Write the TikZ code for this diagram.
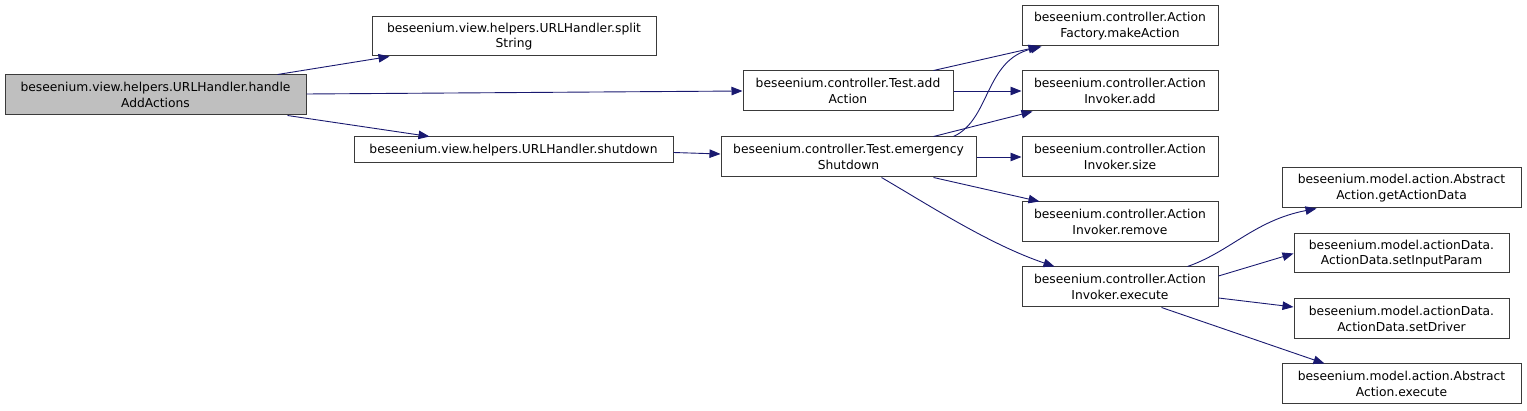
\documentclass[tikz,border=0pt]{standalone}
\usepackage{fontspec}
\setmainfont{DejaVu Sans}
\usetikzlibrary{arrows.meta,calc}
\definecolor{edgecol}{HTML}{191970}
\definecolor{boxline}{HTML}{3A3A3A}
\definecolor{rootfill}{HTML}{BFBFBF}
\begin{document}
\begin{tikzpicture}[x=1pt,y=-1pt,
  box/.style={draw=boxline, line width=1pt, fill=white, inner sep=0pt, align=center,
    font=\fontsize{12.3}{15.3}\selectfont, text=black, minimum height=40pt},
  edge/.style={draw=edgecol, line width=0.9pt, -{Triangle[length=11pt,width=8.5pt]}}]
\useasboundingbox (0,0) rectangle (1527,411);
% nodes
\node[box, fill=rootfill, minimum width=301pt] (handle) at (155.5,95) {beseenium.view.helpers.URLHandler.handle\\AddActions};
\node[box, minimum width=284pt, minimum height=39pt] (split) at (514,36.5) {beseenium.view.helpers.URLHandler.split\\String};
\node[box, minimum width=319pt, minimum height=26pt] (shutdown) at (513.5,150) {beseenium.view.helpers.URLHandler.shutdown};
\node[box, minimum width=210pt] (addAction) at (848,91) {beseenium.controller.Test.add\\Action};
\node[box, minimum width=255pt] (emergency) at (848.5,157) {beseenium.controller.Test.emergency\\Shutdown};
\node[box, minimum width=196pt] (makeAction) at (1120,26) {beseenium.controller.Action\\Factory.makeAction};
\node[box, minimum width=196pt] (invAdd) at (1120,91) {beseenium.controller.Action\\Invoker.add};
\node[box, minimum width=196pt] (invSize) at (1120,157) {beseenium.controller.Action\\Invoker.size};
\node[box, minimum width=196pt] (invRemove) at (1120,222) {beseenium.controller.Action\\Invoker.remove};
\node[box, minimum width=196pt] (invExec) at (1120,287) {beseenium.controller.Action\\Invoker.execute};
\node[box, minimum width=239pt] (getData) at (1401.5,188) {beseenium.model.action.Abstract\\Action.getActionData};
\node[box, minimum width=215pt, minimum height=39pt] (setInput) at (1401.5,253.5) {beseenium.model.actionData.\\ActionData.setInputParam};
\node[box, minimum width=215pt] (setDriver) at (1401.5,319) {beseenium.model.actionData.\\ActionData.setDriver};
\node[box, minimum width=239pt] (absExec) at (1401.5,384) {beseenium.model.action.Abstract\\Action.execute};
% edges
\draw[edge] ($(handle.north west)+(273,0)$) -- ($(split.south west)+(18,0)$);
\draw[edge] ($(handle.east)+(0,-1)$) -- (addAction.west);
\draw[edge] ($(handle.south west)+(283,0)$) -- ($(shutdown.north west)+(76,0)$);
\draw[edge] ($(shutdown.east)+(0,2.5)$) -- ($(emergency.west)+(0,-3)$);
\draw[edge] ($(addAction.north east)+(-20,0)$) -- ($(makeAction.south west)+(18,0)$);
\draw[edge] (addAction.east) -- (invAdd.west);
\draw[edge] ($(emergency.north east)+(-23,0)$) .. controls ($(emergency.north east)+(14,-17)$) and ($(makeAction.south west)+(-37,14)$) .. ($(makeAction.south west)+(20,0)$);
\draw[edge] ($(emergency.north east)+(-43,0)$) -- ($(invAdd.south west)+(11,0)$);
\draw[edge] (emergency.east) -- (invSize.west);
\draw[edge] ($(emergency.south east)+(-43,0)$) -- ($(invRemove.north west)+(18,0)$);
\draw[edge] ($(emergency.south west)+(161,0)$) .. controls ($(emergency.south west)+(209,28)$) and ($(invExec.north west)+(-32,-22)$) .. ($(invExec.north west)+(33,0)$);
\draw[edge] ($(invExec.north east)+(-31,0)$) .. controls ($(invExec.north east)+(12,-15)$) and ($(getData.south west)+(-27,12)$) .. ($(getData.south west)+(35,0)$);
\draw[edge] ($(invExec.east)+(0,-11)$) -- (setInput.west);
\draw[edge] ($(invExec.east)+(0,11)$) -- ($(setDriver.west)+(0,-12)$);
\draw[edge] ($(invExec.south west)+(140,0)$) -- ($(absExec.north west)+(43,0)$);
\end{tikzpicture}
\end{document}
